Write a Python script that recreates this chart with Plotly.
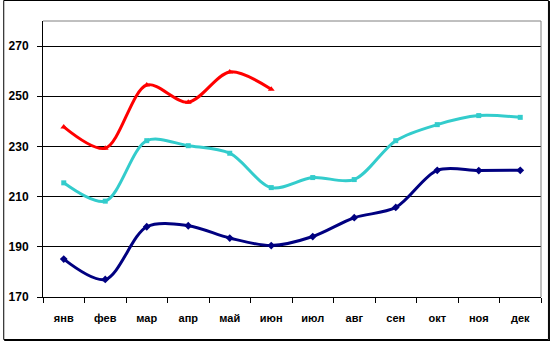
import plotly.graph_objects as go

months = ["янв", "фев", "мар", "апр", "май", "июн", "июл", "авг", "сен", "окт", "ноя", "дек"]
red_vals = [237.8, 229.3, 254.5, 247.6, 259.7, 252.8]
cyan_vals = [215.5, 208.2, 232.3, 230.3, 227.3, 213.6, 217.6, 216.8, 232.3, 238.7, 242.3, 241.6]
navy_vals = [185.1, 177.0, 198.0, 198.4, 193.5, 190.5, 194.1, 201.6, 205.7, 220.5, 220.4, 220.5]
y_ticks = [170, 190, 210, 230, 250, 270]

fig = go.Figure()
fig.add_trace(go.Scatter(x=months, y=navy_vals, mode="lines+markers",
                         line=dict(color="#000080", width=3, shape="spline", smoothing=0.9),
                         marker=dict(symbol="diamond", size=6, color="#000080")))
fig.add_trace(go.Scatter(x=months, y=cyan_vals, mode="lines+markers",
                         line=dict(color="#33CCCC", width=3, shape="spline", smoothing=0.9),
                         marker=dict(symbol="square", size=5, color="#33CCCC")))
fig.add_trace(go.Scatter(x=months[:len(red_vals)], y=red_vals, mode="lines+markers",
                         line=dict(color="#FF0000", width=3, shape="spline", smoothing=0.9),
                         marker=dict(symbol="triangle-up", size=6, color="#FF0000")))

L, R, T, B = 40, 9, 21, 44
W, H = 550, 341
pw, ph = W - L - R, H - T - B

def px(x):
    return (x - L) / pw

def py(y):
    return (H - B - y) / ph

shapes = [
    dict(type="line", xref="paper", yref="paper", x0=0, x1=1, y0=1, y1=1, line=dict(color="#808080", width=1)),
    dict(type="line", xref="paper", yref="paper", x0=1, x1=1, y0=0, y1=1, line=dict(color="#808080", width=1)),
    dict(type="rect", xref="paper", yref="paper", x0=px(0.5), x1=px(548.5), y0=py(339.5), y1=py(0.5),
         line=dict(color="black", width=1)),
    dict(type="line", xref="paper", yref="paper", x0=px(549.5), x1=px(549.5), y0=py(341), y1=py(1),
         line=dict(color="black", width=1)),
    dict(type="line", xref="paper", yref="paper", x0=px(1), x1=px(550), y0=py(340.5), y1=py(340.5),
         line=dict(color="black", width=1)),
]

fig.update_layout(
    width=W, height=H,
    margin=dict(l=L, r=R, t=T, b=B, pad=0),
    paper_bgcolor="white", plot_bgcolor="white",
    showlegend=False,
    font=dict(family="Liberation Sans, Arial, sans-serif", size=11, color="black"),
    shapes=shapes,
    xaxis=dict(type="category", showgrid=False, showline=True, linecolor="black", linewidth=1,
               ticks="outside", ticklen=5, tickcolor="black", tickson="boundaries",
               tickfont=dict(family="Liberation Sans, Arial, sans-serif", size=11, color="black", weight="bold"),
               ticklabelstandoff=11, range=[-0.5, 11.5], zeroline=False),
    yaxis=dict(range=[170, 280], tickvals=y_ticks, showgrid=True, gridcolor="black", gridwidth=1,
               showline=True, linecolor="black", linewidth=1, ticks="outside", ticklen=5,
               tickcolor="black", zeroline=False,
               tickfont=dict(family="Liberation Sans, Arial, sans-serif", size=12, color="black", weight="bold"),
               ticklabelstandoff=6),
)

fig.write_html("out.html")
